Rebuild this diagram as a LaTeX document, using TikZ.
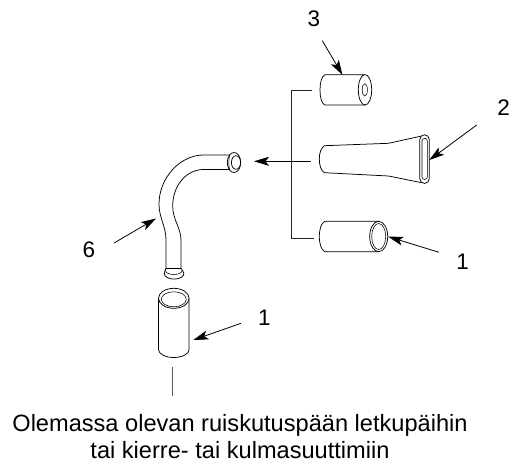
\documentclass[tikz,border=0pt]{standalone}
\usepackage{fontspec}
\setmainfont{Liberation Sans}
\usetikzlibrary{arrows.meta}
\tikzset{
  part/.style={draw=black,line width=0.75pt,fill=white,line join=round},
  thin part/.style={draw=black,line width=0.55pt},
  callout/.style={draw=black,line width=0.8pt,-{Stealth[length=15pt,width=9pt,inset=3.5pt]}},
  bracket/.style={draw=black!85,line width=0.8pt},
  num/.style={font=\fontsize{22.5}{26}\selectfont,inner sep=0pt,text=black},
  capt/.style={font=\fontsize{23.6}{26.7}\selectfont,inner sep=0pt,align=center,text=black}
}
\begin{document}
\begin{tikzpicture}[x=1pt,y=-1pt]
\useasboundingbox (0,0) rectangle (511,466);
\fill[white] (0,0) rectangle (511,466);
% curved tube
\draw[part] (231,155) -- (203.5,155) .. controls (180,155) and (159,178) .. (159,204)
  .. controls (159,218) and (166,226) .. (166,240) -- (166,270) -- (181,270) -- (181,240)
  .. controls (181,228) and (172.7,220) .. (172.7,206)
  .. controls (172.7,186) and (186,169.5) .. (203.5,169.5) -- (231,169.5);
\draw[part] (166,268.5) .. controls (165.5,270) and (164.3,271) .. (164.3,273.5)
  arc[start angle=180,end angle=0,x radius=9.8,y radius=5.6]
  .. controls (184,271) and (181.5,270) .. (181,268.5) -- cycle;
\draw[thin part] (165.5,270.5) arc[start angle=180,end angle=0,x radius=8.3,y radius=4];
\draw[part] (234,162.5) ellipse[x radius=6.7,y radius=10];
\draw[thin part] (229.6,155) arc[start angle=210,end angle=150,x radius=6,y radius=15];
\draw[part] (236,162.5) ellipse[x radius=4.6,y radius=6.8];
% sleeve below the tube
\draw[part] (158.5,298) -- (158.5,349.5) arc[start angle=180,end angle=0,x radius=15.3,y radius=8] -- (189,298);
\draw[part] (173.8,298.3) ellipse[x radius=15.3,y radius=10];
\draw[thin part] (173.8,299.3) ellipse[x radius=12.5,y radius=7.5];
\coordinate (lineA) at (172.7,367);
\coordinate (lineB) at (172.7,396);
\draw[draw=black!65,line width=0.8pt] (lineA) -- (lineB);
% sleeve 3
\draw[part] (365,74.7) -- (325,74.7) .. controls (321.5,76) and (320,83) .. (320,90)
  .. controls (320,97) and (321.5,104) .. (325,105) -- (365,105);
\draw[part] (365,89.8) ellipse[x radius=6.7,y radius=15.2];
\draw[thin part] (364.8,89.8) ellipse[x radius=2.6,y radius=6.2];
% nozzle 2
\draw[part] (421.7,136) -- (388.5,143.3) -- (324.5,145.7) .. controls (321,148) and (319.3,153) .. (319.3,159)
  .. controls (319.3,165) and (321,171) .. (324.5,172.7) -- (388.5,176) -- (421.7,182.7);
\draw[part] (419.8,139.5) arc[start angle=180,end angle=360,radius=4.75] -- (429.3,178.7)
  arc[start angle=0,end angle=180,radius=4.75] -- cycle;
\draw[thin part] (422,141) arc[start angle=180,end angle=360,radius=2.7] -- (427.4,176.8)
  arc[start angle=0,end angle=180,radius=2.7] -- cycle;
% sleeve 1, right
\draw[part] (378.7,221.3) -- (325,221.3) .. controls (321.5,222.5) and (319.3,229) .. (319.3,236.5)
  .. controls (319.3,244) and (321.5,250.5) .. (325,251.7) -- (378.7,251.7);
\draw[part] (378.7,236.5) ellipse[x radius=9,y radius=15.2];
\draw[thin part] (378.7,236.5) ellipse[x radius=7,y radius=13];
% bracket
\coordinate (brTop) at (312.3,90.3);
\coordinate (brBot) at (313.5,238.3);
\coordinate (brMid) at (310.7,161.3);
\coordinate (brTip) at (254,161.3);
\draw[bracket] (brTop) -- (291.7,90.3) -- (291.7,238.3) -- (brBot);
\draw[callout] (brMid) -- (brTip);
% labels
\node[num] (n3) at (314,19) {3};
\node[num] (n2) at (503.5,107.7) {2};
\node[num] (n1a) at (462.7,261.7) {1};
\node[num] (n1b) at (264.3,317.7) {1};
\node[num] (n6) at (89,249.3) {6};
% callouts
\coordinate (a3s) at (322.3,40.7); \coordinate (a3t) at (342.5,75);
\coordinate (a2s) at (476.7,125);  \coordinate (a2t) at (429.3,160);
\coordinate (a1s) at (439,252.3);  \coordinate (a1t) at (388.3,236.7);
\coordinate (b1s) at (241,323.3);  \coordinate (b1t) at (193.3,340);
\coordinate (a6s) at (114,243);    \coordinate (a6t) at (156,218.5);
\draw[callout] (a3s) -- (a3t);
\draw[callout] (a2s) -- (a2t);
\draw[callout] (a1s) -- (a1t);
\draw[callout] (b1s) -- (b1t);
\draw[callout] (a6s) -- (a6t);
% caption
\node[capt,anchor=south] (cap) at (240,459) {Olemassa olevan ruiskutuspään letkupäihin\\tai kierre- tai kulmasuuttimiin};
\end{tikzpicture}
\end{document}
